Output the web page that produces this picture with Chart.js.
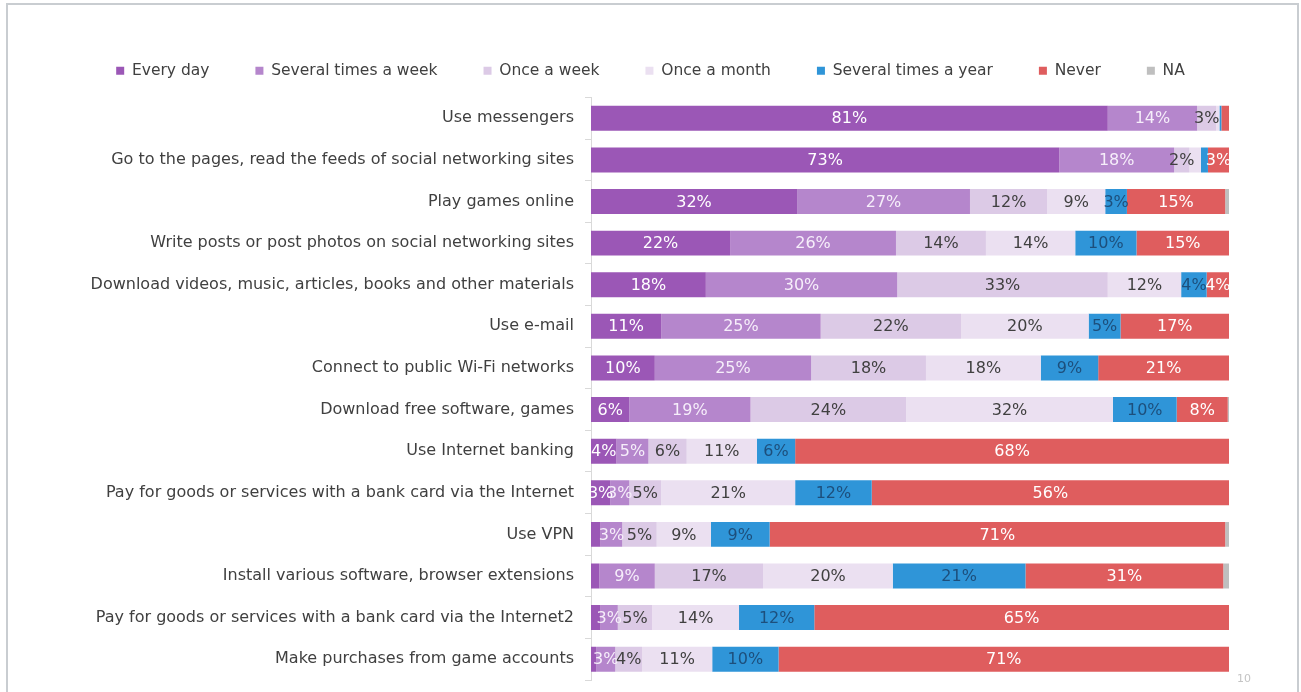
<!DOCTYPE html>
<html>
<head>
<meta charset="utf-8">
<script src="https://cdn.jsdelivr.net/npm/chart.js@4/dist/chart.umd.min.js"></script>
<style>
  html, body { margin: 0; padding: 0; background: #ffffff; }
  body { width: 1301px; height: 692px; position: relative; overflow: hidden; font-family: "DejaVu Sans", Verdana, sans-serif; }
  #frame { position: absolute; left: 6px; top: 3px; width: 1289px; height: 720px; border: 2px solid #c9cdd1; border-bottom: none; }
  #wrap { position: absolute; left: 0; top: 0; width: 1301px; height: 692px; }
  #pageNo { position: absolute; left: 1237px; top: 672px; font-size: 11px; color: #c4c4c4; }
</style>
</head>
<body>
<div id="frame"></div>
<div id="wrap"><canvas id="chart" width="1301" height="692"></canvas></div>
<div id="pageNo">10</div>
<script>
// Survey answers: how often respondents do each activity online (% of respondents)
const activities = [
  "Use messengers",
  "Go to the pages, read the feeds of social networking sites",
  "Play games online",
  "Write posts or post photos on social networking sites",
  "Download videos, music, articles, books and other materials",
  "Use e-mail",
  "Connect to public Wi-Fi networks",
  "Download free software, games",
  "Use Internet banking",
  "Pay for goods or services with a bank card via the Internet",
  "Use VPN",
  "Install various software, browser extensions",
  "Pay for goods or services with a bank card via the Internet2",
  "Make purchases from game accounts"
];

const frequencyNames = ["Every day", "Several times a week", "Once a week", "Once a month", "Several times a year", "Never", "NA"];

const everyDay          = [81, 73.4, 32.3, 21.8, 18, 11, 10,   6,    4,  3, 1.5, 1.3, 1.5, 0.8];
const severalPerWeek    = [14, 18,   27.1, 26,   30, 25, 24.5, 19,   5,  3, 3.4, 8.7, 2.7, 3];
const onceAWeek         = [3,  2.4,  12.1, 14.1, 33, 22, 18,   24.4, 6,  5, 5.4, 17,  5.4, 4.2];
const onceAMonth        = [0.5, 1.8, 9.1,  14,   11.5, 20, 18, 32.4, 11, 21, 8.5, 20.3, 13.6, 11];
const severalPerYear    = [0.3, 1.1, 3.4,  9.6,  4,  5,  9,    10,   6,  12, 9.2, 20.8, 11.8, 10.4];
const never             = [1.2, 3.3, 15.4, 14.5, 3.5, 17, 20.5, 8,  68, 56, 71.4, 31, 65, 70.6];
const notAnswered       = [0,  0,    0.6,  0,    0,  0,  0,    0.2,  0,  0, 0.6, 0.9, 0,   0];

const seriesValues = [everyDay, severalPerWeek, onceAWeek, onceAMonth, severalPerYear, never, notAnswered];
const seriesColors = ["#9b57b6", "#b586cc", "#dccae6", "#ebe0f1", "#2f95d8", "#df5d5e", "#bfbfbf"];
const labelColors  = ["#ffffff", "#f6eefa", "#404040", "#404040", "#1d4f7c", "#ffffff", "#404040"];

const FONT = '"DejaVu Sans", Verdana, sans-serif';

// Percent labels drawn in the middle of each bar segment
const segmentLabels = {
  id: 'segmentLabels',
  afterDatasetsDraw(chart) {
    const ctx = chart.ctx;
    ctx.save();
    ctx.font = '16px ' + FONT;
    ctx.textAlign = 'center';
    ctx.textBaseline = 'middle';
    chart.data.datasets.forEach((ds, di) => {
      const meta = chart.getDatasetMeta(di);
      if (meta.hidden) return;
      meta.data.forEach((bar, i) => {
        const v = ds.data[i];
        if (v < 2) return;
        const c = bar.getCenterPoint();
        ctx.fillStyle = labelColors[di];
        ctx.fillText(Math.round(v) + '%', c.x, c.y + 1);
      });
    });
    ctx.restore();
  }
};

new Chart(document.getElementById('chart'), {
  type: 'bar',
  data: {
    labels: activities,
    datasets: frequencyNames.map((name, k) => ({
      label: name,
      data: seriesValues[k],
      backgroundColor: seriesColors[k],
      borderWidth: 0,
      barPercentage: 0.6,
      categoryPercentage: 1
    }))
  },
  options: {
    indexAxis: 'y',
    responsive: false,
    animation: false,
    devicePixelRatio: 1,
    layout: { padding: { left: 0, right: 0, top: 17, bottom: 12 } },
    plugins: {
      legend: {
        position: 'top',
        labels: {
          boxWidth: 8,
          boxHeight: 8,
          padding: 46,
          color: '#404040',
          font: { family: FONT, size: 15.5 }
        }
      },
      tooltip: { enabled: false }
    },
    scales: {
      x: {
        position: 'top',
        stacked: true,
        min: 0,
        max: 100,
        ticks: { display: false },
        grid: { display: false },
        border: { display: false },
        afterFit(scale) { scale.height = 9; }
      },
      y: {
        stacked: true,
        ticks: {
          color: '#404040',
          padding: 11,
          font: { family: FONT, size: 16 }
        },
        grid: {
          display: true,
          drawOnChartArea: false,
          tickLength: 6,
          color: '#d9d9d9'
        },
        border: { display: true, color: '#d9d9d9' },
        afterFit(scale) {
          scale.width = 591;
          scale.paddingTop = 0;
          scale.paddingBottom = 0;
        }
      },
      // empty margin on the right side of the bars
      rightMargin: {
        type: 'linear',
        position: 'right',
        display: true,
        ticks: { display: false },
        grid: { display: false },
        border: { display: false },
        afterFit(scale) { scale.width = 72; }
      }
    }
  },
  plugins: [segmentLabels]
});
</script>
</body>
</html>
